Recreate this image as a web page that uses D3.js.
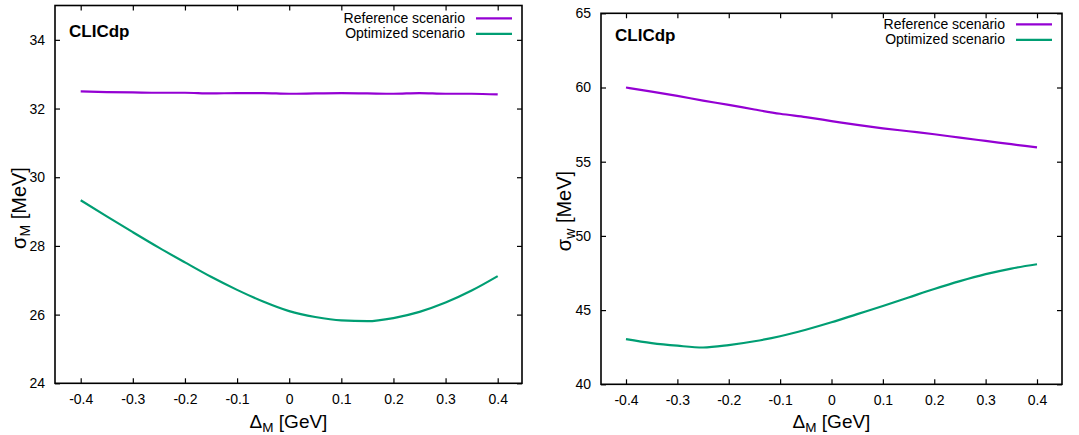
<!DOCTYPE html>
<html>
<head>
<meta charset="utf-8">
<script src="https://cdn.jsdelivr.net/npm/d3@7"></script>
<style>
  body { margin: 0; background: #fff; }
  svg { display: block; font-family: "Liberation Sans", Arial, Helvetica, sans-serif; }
</style>
</head>
<body>
<svg id="chart" width="1079" height="435"></svg>
<script>
// ---- data ----
const deltaM = [-0.4,-0.35,-0.3,-0.25,-0.2,-0.15,-0.1,-0.05,0,0.05,0.1,0.15,0.2,0.25,0.3,0.35,0.4];

const sigmaM_reference = [32.50,32.48,32.47,32.46,32.46,32.44,32.45,32.45,32.43,32.44,32.45,32.44,32.43,32.45,32.43,32.43,32.41];
const sigmaM_optimized = [29.33,28.86,28.40,27.95,27.52,27.10,26.72,26.38,26.10,25.93,25.83,25.81,25.90,26.08,26.35,26.70,27.12];

const sigmaW_reference = [60.00,59.72,59.43,59.12,58.83,58.52,58.23,58.00,57.74,57.48,57.25,57.05,56.85,56.62,56.40,56.18,55.96];
const sigmaW_optimized = [43.05,42.78,42.60,42.48,42.64,42.90,43.24,43.68,44.18,44.73,45.28,45.85,46.42,46.95,47.42,47.80,48.09];

const xTicks = [-0.4,-0.3,-0.2,-0.1,0,0.1,0.2,0.3,0.4];
const yTicksLeft = [24,26,28,30,32,34];
const yTicksRight = [40,45,50,55,60,65];

const seriesNames = ["Reference scenario","Optimized scenario"];
const seriesColors = ["#9400d3","#009e73"];

const svg = d3.select("#chart");

function panel(cfg) {
  const g = svg.append("g");
  const x = d3.scaleLinear().domain([-0.4, 0.4]).range([cfg.xm04, cfg.xp04]);
  const y = d3.scaleLinear().domain(cfg.yDomain).range([cfg.bottom, cfg.top]);
  const tickLen = 5;

  const fmtX = d => d === 0 ? "0" : d3.format(".1f")(d).replace("−","-");
  const axB = g.append("g").attr("transform", `translate(0,${cfg.bottom})`)
    .call(d3.axisBottom(x).tickValues(xTicks).tickSize(-tickLen).tickPadding(11).tickFormat(fmtX));
  const axT = g.append("g").attr("transform", `translate(0,${cfg.top})`)
    .call(d3.axisTop(x).tickValues(xTicks).tickSize(-tickLen).tickFormat(""));
  const axL = g.append("g").attr("transform", `translate(${cfg.left},0)`)
    .call(d3.axisLeft(y).tickValues(cfg.yTicks).tickSize(-tickLen).tickPadding(10).tickFormat(d3.format("d")));
  const axR = g.append("g").attr("transform", `translate(${cfg.right},0)`)
    .call(d3.axisRight(y).tickValues(cfg.yTicks).tickSize(-tickLen).tickFormat(""));
  [axB, axT, axL, axR].forEach(a => {
    a.select(".domain").remove();
    a.selectAll(".tick line").attr("stroke", "#000").attr("stroke-width", 1.2);
    a.selectAll("text").attr("font-size", 14).attr("fill", "#000")
      .attr("font-family", "'Liberation Sans', Arial, sans-serif");
  });

  g.append("rect")
    .attr("x", cfg.left).attr("y", cfg.top)
    .attr("width", cfg.right - cfg.left).attr("height", cfg.bottom - cfg.top)
    .attr("fill", "none").attr("stroke", "#000").attr("stroke-width", 1.6);

  const line = d3.line().x((d, i) => x(deltaM[i])).y(d => y(d)).curve(d3.curveMonotoneX);
  cfg.series.forEach((s, k) => {
    g.append("path").datum(s)
      .attr("d", line)
      .attr("fill", "none")
      .attr("stroke", seriesColors[k])
      .attr("stroke-width", 2.2);
  });

  g.append("text").attr("x", cfg.left + 14).attr("y", cfg.clicY)
    .attr("font-size", 17).attr("font-weight", "bold").text("CLICdp");

  seriesNames.forEach((n, k) => {
    const ly = cfg.legendY + k * 15.5;
    g.append("text").attr("x", cfg.legendTextRight).attr("y", ly + 4.5)
      .attr("text-anchor", "end").attr("font-size", 14).text(n);
    g.append("line")
      .attr("x1", cfg.legendTextRight + 11).attr("x2", cfg.legendTextRight + 47)
      .attr("y1", ly).attr("y2", ly)
      .attr("stroke", seriesColors[k]).attr("stroke-width", 2.2);
  });

  const xl = g.append("text")
    .attr("x", (cfg.left + cfg.right) / 2).attr("y", 428)
    .attr("text-anchor", "middle").attr("font-size", 19);
  xl.append("tspan").text("Δ");
  xl.append("tspan").attr("font-size", 13.5).attr("dy", 4).text("M");
  xl.append("tspan").attr("dy", -4).text(" [GeV]");

  const yl = g.append("text")
    .attr("transform", `translate(${cfg.yLabelX},${cfg.yLabelY}) rotate(-90)`)
    .attr("text-anchor", "middle").attr("font-size", 20);
  yl.append("tspan").text("σ");
  yl.append("tspan").attr("font-size", 14).attr("dy", 4).text(cfg.ySub);
  yl.append("tspan").attr("dy", -4).text(" [MeV]");
}

panel({
  left: 55, right: 522, top: 5.5, bottom: 383.3, xm04: 80.7, xp04: 497.7,
  yDomain: [24, 35], yTicks: yTicksLeft,
  series: [sigmaM_reference, sigmaM_optimized],
  clicY: 37, legendY: 18.3, legendTextRight: 465,
  yLabelX: 26, yLabelY: 208, ySub: "M"
});

panel({
  left: 601, right: 1062, top: 13.3, bottom: 384.3, xm04: 626, xp04: 1037,
  yDomain: [40, 65], yTicks: yTicksRight,
  series: [sigmaW_reference, sigmaW_optimized],
  clicY: 41, legendY: 24.3, legendTextRight: 1005,
  yLabelX: 571, yLabelY: 211, ySub: "w"
});
</script>
</body>
</html>
